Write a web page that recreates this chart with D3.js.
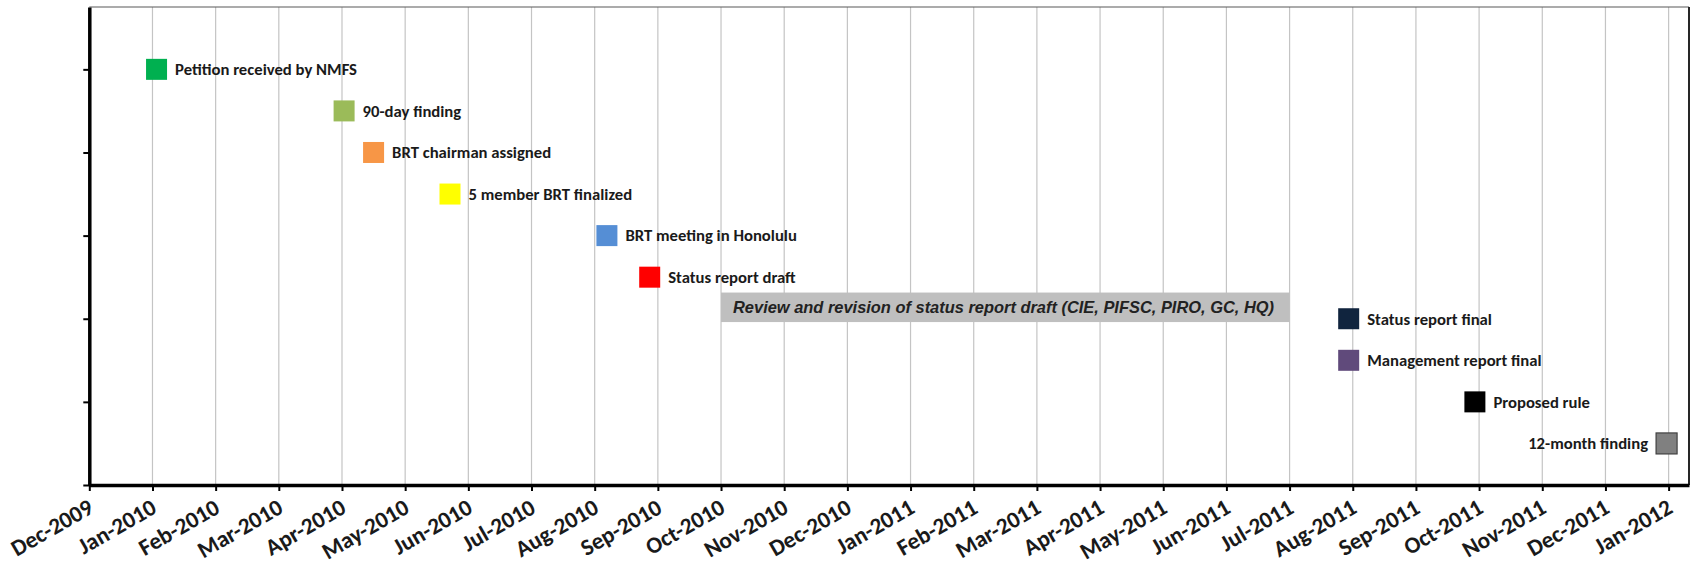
<!DOCTYPE html>
<html>
<head>
<meta charset="utf-8">
<script src="https://cdn.jsdelivr.net/npm/d3@7"></script>
<style>
body{margin:0;background:#fff;}
svg{display:block;}
.lbl{font-family:Carlito, Lato, sans-serif;font-weight:bold;fill:#1a1a1a;}
</style>
</head>
<body>
<svg id="chart" width="1694" height="572"></svg>
<script>
// milestones, one per row
var names = ['Petition received by NMFS','90-day finding','BRT chairman assigned','5 member BRT finalized','BRT meeting in Honolulu','Status report draft','Status report final','Management report final','Proposed rule','12-month finding']
var dates = ['2010-01-03','2010-04-02','2010-04-16','2010-05-23','2010-08-07','2010-08-28','2011-07-30','2011-07-30','2011-09-29','2011-12-31']
var levels = [10,9,8,7,6,5,4,3,2,1]
var colors = ['#00B050','#9BBB59','#F79646','#FFFF00','#558ED5','#FF0000','#10243E','#604A7B','#000000','#808080']
// review period box
var reviewText = 'Review and revision of status report draft (CIE, PIFSC, PIRO, GC, HQ)'
var reviewDates = ['2010-10-01','2011-07-01']
var reviewLevels = [3.92,4.63]
// axes
var monthLabels = ['Dec-2009','Jan-2010','Feb-2010','Mar-2010','Apr-2010','May-2010','Jun-2010','Jul-2010','Aug-2010','Sep-2010','Oct-2010','Nov-2010','Dec-2010','Jan-2011','Feb-2011','Mar-2011','Apr-2011','May-2011','Jun-2011','Jul-2011','Aug-2011','Sep-2011','Oct-2011','Nov-2011','Dec-2011','Jan-2012']
var axisRange = ['2009-12-01','2012-01-11']
var yTicks = [0,2,4,6,8,10], yMax = 11.5

var pL = 89.3, pR = 1689, pT = 7, pB = 485
var svg = d3.select('#chart')

// months are equally spaced on this chart, so turn a date into a month position
function monthPos(s){
  var p = s.split('-').map(Number)
  var dim = new Date(p[0], p[1], 0).getDate()
  return (p[0]-2009)*12 + (p[1]-12) + (p[2]-1)/dim
}
var x = d3.scaleLinear().domain(axisRange.map(monthPos)).range([pL, pR])
var y = d3.scaleLinear().domain([0, yMax]).range([pB, pT])
var monthIdx = monthLabels.map(function(d,i){ return i })

// gridlines
svg.append('g').selectAll('line').data(monthIdx.slice(1)).enter().append('line')
  .attr('x1', function(d){ return x(d) }).attr('x2', function(d){ return x(d) })
  .attr('y1', pT).attr('y2', pB)
  .attr('stroke', '#c4c4c4').attr('stroke-width', 1.2)

// plot frame (top + right)
svg.append('line').attr('x1', pL).attr('x2', pR).attr('y1', pT).attr('y2', pT)
  .attr('stroke', '#595959').attr('stroke-width', 1.2)
svg.append('line').attr('x1', pR).attr('x2', pR).attr('y1', pT).attr('y2', pB)
  .attr('stroke', '#262626').attr('stroke-width', 2)

// font fitting: marker labels ~182px for the first label, axis labels ~90px for 'Dec-2009'
function measure(txt, fam, size){
  var t = svg.append('text').text(txt).style('font-family', fam).style('font-weight', 'bold')
    .style('font-size', size+'px')
  var w = t.node().getComputedTextLength()
  t.remove()
  return w
}
var fam = 'Carlito, Lato, sans-serif'
var lblSize = 16*182/measure(names[0], fam, 16)
var axSize = 16*90/measure(monthLabels[0], fam, 16)

// review box
var rx0 = x(monthPos(reviewDates[0])), rx1 = x(monthPos(reviewDates[1]))
var rb = svg.append('g')
rb.append('rect')
  .attr('x', rx0).attr('width', rx1 - rx0)
  .attr('y', y(reviewLevels[1])).attr('height', y(reviewLevels[0]) - y(reviewLevels[1]))
  .attr('fill', '#BFBFBF')
rb.append('text')
  .attr('x', rx0 + 12)
  .attr('y', (y(reviewLevels[0]) + y(reviewLevels[1]))/2)
  .attr('dy', '0.36em')
  .attr('textLength', 541).attr('lengthAdjust', 'spacingAndGlyphs')
  .style('font-family', 'Liberation Sans, Arial, sans-serif').style('font-weight', 'bold')
  .style('font-style', 'italic').style('font-size', '17px').style('fill', '#222')
  .text(reviewText)

// x axis
var xa = svg.append('g').attr('transform', 'translate(0,'+pB+')')
  .call(d3.axisBottom(x).tickValues(monthIdx).tickSize(6).tickSizeOuter(0).tickFormat(function(i){ return monthLabels[i] }))
xa.select('.domain').attr('stroke', '#000').attr('stroke-width', 3.5)
xa.selectAll('.tick line').attr('stroke', '#000').attr('stroke-width', 2)
xa.selectAll('.tick text')
  .attr('y', 0).attr('dy', 0).attr('x', 0)
  .attr('text-anchor', 'end')
  .attr('transform', 'translate(5,27) rotate(-30)')
  .style('font-family', fam).style('font-weight', 'bold').style('font-size', axSize+'px').style('fill', '#1a1a1a')

// y axis, ticks only
var ya = svg.append('g').attr('transform', 'translate('+pL+',0)')
  .call(d3.axisLeft(y).tickValues(yTicks).tickSize(6).tickSizeOuter(0).tickFormat(''))
ya.select('.domain').attr('stroke', '#000').attr('stroke-width', 3.5)
ya.selectAll('.tick line').attr('stroke', '#000').attr('stroke-width', 2)

// markers
var ms = 21
svg.append('g').selectAll('rect').data(names).enter().append('rect')
  .attr('x', function(d,i){ return x(monthPos(dates[i])) - ms/2 })
  .attr('y', function(d,i){ return y(levels[i]) - ms/2 })
  .attr('width', ms).attr('height', ms)
  .attr('fill', function(d,i){ return colors[i] })
  .attr('stroke', function(d,i){ return colors[i] == '#808080' ? '#404040' : 'none' })
  .attr('stroke-width', 1.2)

// labels, flipped to the left when they would run past the frame
svg.append('g').selectAll('text').data(names).enter().append('text')
  .attr('class', 'lbl')
  .style('font-size', lblSize+'px')
  .attr('y', function(d,i){ return y(levels[i]) })
  .attr('dy', '0.35em')
  .text(function(d){ return d })
  .each(function(d,i){
    var cx = x(monthPos(dates[i])), w = this.getComputedTextLength()
    var el = d3.select(this)
    if(cx + ms/2 + 8 + w > pR) el.attr('x', cx - ms/2 - 8).attr('text-anchor', 'end')
    else el.attr('x', cx + ms/2 + 8)
  })
</script>
</body>
</html>
